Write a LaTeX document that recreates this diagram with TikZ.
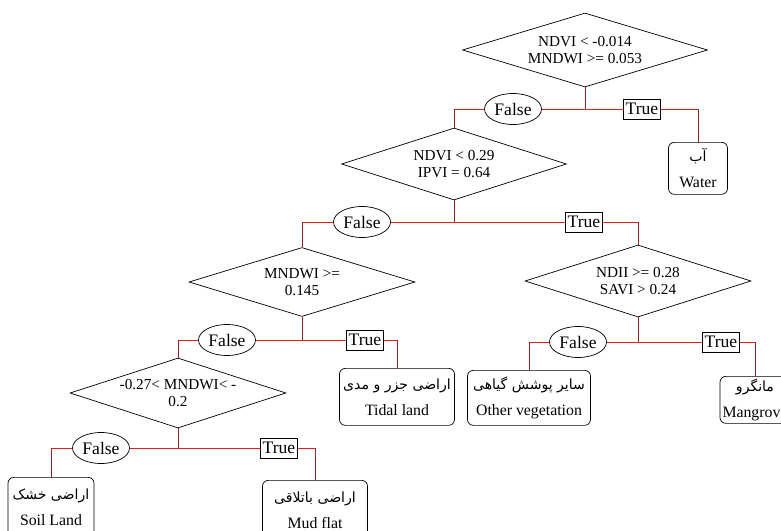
\documentclass[tikz,border=0pt]{standalone}
\usepackage{fontspec}
\setmainfont{Liberation Serif}
\newfontfamily\farsi[Script=Arabic]{DejaVu Sans}
\TeXXeTstate=1
\usetikzlibrary{shapes.geometric}
\definecolor{redline}{RGB}{226,32,32}
\definecolor{stemline}{RGB}{140,36,36}
\newcommand{\fa}[1]{{\farsi\fontsize{12}{14}\selectfont\beginR #1\endR}}

\begin{document}
\begin{tikzpicture}[x=0.03cm, y=-0.03cm, font=\fontsize{13}{15}\selectfont,
	cond/.style={diamond, draw, line width=.6pt, inner sep=0pt},
	falsenode/.style={ellipse, draw, line width=.6pt, inner sep=0pt, minimum width=1.71cm, minimum height=.93cm, font=\fontsize{15}{17}\selectfont},
	truenode/.style={rectangle, draw, line width=.6pt, inner xsep=2pt, inner ysep=0pt, minimum height=.6cm, font=\fontsize{15}{17}\selectfont},
	leaf/.style={rectangle, draw, line width=.6pt, rounded corners=5pt, align=center, anchor=north, inner sep=0pt, font=\fontsize{13.5}{22}\selectfont},
	hline/.style={draw=redline, line width=.8pt},
	vline/.style={draw=stemline, line width=.6pt}]
	\clip (0,0) rectangle (781,531);
	\node[cond, minimum width=7.35cm, minimum height=2.22cm, label={[align=center]center:NDVI < -0.014\\MNDWI >= 0.053}] (c1) at (585,50) {};
	\node[cond, minimum width=6.75cm, minimum height=2.16cm, label={[align=center]center:NDVI < 0.29\\IPVI = 0.64}] (c2) at (454,164) {};
	\node[cond, minimum width=6.78cm, minimum height=2.07cm, label={[align=center]center:MNDWI >=\\0.145}] (c3) at (302,282) {};
	\node[cond, minimum width=6.78cm, minimum height=2.16cm, label={[align=center]center:NDII >= 0.28\\SAVI > 0.24}] (c4) at (638,281) {};
	\node[cond, minimum width=6.48cm, minimum height=2.1cm, label={[align=center]center:-0.27< MNDWI< -\\0.2}] (c5) at (178,393) {};

	\node[falsenode] (f1) at (513,109) {False};
	\node[truenode] (t1) at (642,109) {True};
	\node[falsenode] (f2) at (362,222) {False};
	\node[truenode] (t2) at (584,222) {True};
	\node[falsenode] (f3) at (227,340) {False};
	\node[truenode] (t3) at (365,340) {True};
	\node[falsenode] (f4) at (101,448) {False};
	\node[truenode] (t4) at (279,448) {True};
	\node[falsenode] (f5) at (578,342) {False};
	\node[truenode] (t5) at (721,342) {True};

	\node[leaf, minimum width=1.77cm, minimum height=1.56cm] (water) at (698,142) {\fa{آب}\\Water};
	\node[leaf, minimum width=3.45cm, minimum height=1.71cm] (tidal) at (397,368) {\fa{اراضی جزر و مدی}\\Tidal land};
	\node[leaf, minimum width=3.69cm, minimum height=1.65cm] (other) at (529,370) {\fa{سایر پوشش گیاهی}\\Other vegetation};
	\node[leaf, minimum width=2.1cm, minimum height=1.41cm] (mangrove) at (755,376) {\fa{مانگرو}\\Mangrove};
	\node[leaf, minimum width=2.58cm, minimum height=1.8cm] (soil) at (51,477) {\fa{اراضی خشک}\\Soil Land};
	\node[leaf, minimum width=3.15cm, minimum height=1.8cm] (mud) at (315,480) {\fa{اراضی باتلاقی}\\Mud flat};

	\foreach \c/\f/\t in {c1/f1/t1, c2/f2/t2, c3/f3/t3, c4/f5/t5, c5/f4/t4} {
		\draw[vline] (\c.south) -- (\c.south |- \f.center);
		\draw[hline] (\f.east) -- (\t.west);
	}
	\foreach \a/\b in {f1.west/c2.north, t1.east/water.north, f2.west/c3.north, t2.east/c4.north, f3.west/c5.north, t3.east/tidal.north, f4.west/soil.north, t4.east/mud.north, f5.west/other.north, t5.east/mangrove.north} {
		\draw[hline] (\a) -- (\a -| \b);
		\draw[vline] (\a -| \b) -- (\b);
	}
\end{tikzpicture}
\end{document}
